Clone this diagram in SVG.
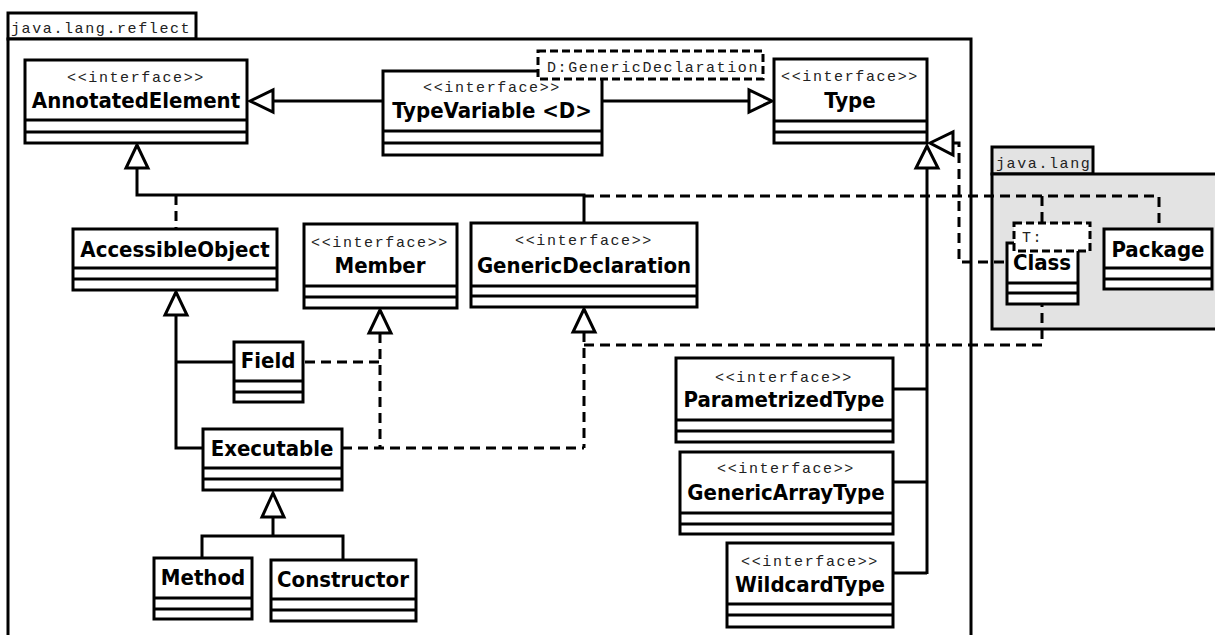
<svg xmlns="http://www.w3.org/2000/svg" width="1215" height="635" viewBox="0 0 1215 635">
  <style>
    .pkg { fill: #ffffff; stroke: #000; stroke-width: 3; }
    .pkg-gray { fill: #e3e3e3; stroke: #000; stroke-width: 3; }
    .box { fill: #ffffff; stroke: #000; stroke-width: 3; }
    .sep { stroke: #000; stroke-width: 3; fill: none; }
    .tmpl { fill: #ffffff; stroke: #000; stroke-width: 3; stroke-dasharray: 8 4; }
    .mono { font-family: "Liberation Mono", "DejaVu Sans Mono", monospace; font-size: 15px; letter-spacing: 1.6px; fill: #222; }
    .name { font-family: "DejaVu Sans Condensed", "DejaVu Sans", sans-serif; font-stretch: condensed; font-weight: bold; font-size: 22px; fill: #000; text-anchor: middle; }
    .st { text-anchor: middle; }
    .solid { fill: none; stroke: #000; stroke-width: 3; }
    .dash { fill: none; stroke: #000; stroke-width: 3; stroke-dasharray: 10 6; }
    .tri { fill: #ffffff; stroke: #000; stroke-width: 3; stroke-linejoin: miter; }
  </style>

  <!-- package java.lang.reflect -->
  <g id="pkg-reflect">
    <rect class="pkg" x="8" y="13" width="188" height="26"/>
    <rect class="pkg" x="8" y="39" width="963" height="610"/>
    <text class="mono" x="11" y="33">java.lang.reflect</text>
  </g>

  <!-- package java.lang -->
  <g id="pkg-lang">
    <rect class="pkg-gray" x="992" y="147" width="101" height="27"/>
    <rect class="pkg-gray" x="992" y="174" width="240" height="155"/>
    <text class="mono" x="996" y="168">java.lang</text>
  </g>

  <!-- connectors -->
  <g id="connectors">
    <!-- TypeVariable extends AnnotatedElement -->
    <line class="solid" x1="273" y1="101" x2="383" y2="101"/>
    <polygon class="tri" points="250,101 273,90 273,112"/>
    <!-- TypeVariable extends Type -->
    <line class="solid" x1="602" y1="101" x2="749" y2="101"/>
    <polygon class="tri" points="772,101 749,90 749,112"/>
    <!-- AnnotatedElement hierarchy -->
    <polyline class="solid" points="137,168 137,195 584,195 584,223"/>
    <polygon class="tri" points="137,145 126,168 148,168"/>
    <line class="dash" x1="176" y1="195" x2="176" y2="229"/>
    <polyline class="dash" points="584,196 1159,196 1159,229"/>
    <line class="dash" x1="1042" y1="196" x2="1042" y2="243"/>
    <!-- AccessibleObject hierarchy -->
    <polyline class="solid" points="176,315 176,448 203,448"/>
    <line class="solid" x1="176" y1="362" x2="234" y2="362"/>
    <polygon class="tri" points="176,292 165,315 187,315"/>
    <!-- Member realizations -->
    <line class="dash" x1="305" y1="362" x2="380" y2="362"/>
    <line class="dash" x1="380" y1="333" x2="380" y2="448"/>
    <line class="dash" x1="342" y1="448" x2="584" y2="448"/>
    <polygon class="tri" points="380,310 369,333 391,333"/>
    <!-- GenericDeclaration realizations -->
    <line class="dash" x1="584" y1="332" x2="584" y2="448"/>
    <polyline class="dash" points="584,345 1042,345 1042,304"/>
    <polygon class="tri" points="584,309 573,332 595,332"/>
    <!-- Type hierarchy -->
    <line class="solid" x1="927" y1="168" x2="927" y2="574"/>
    <line class="solid" x1="893" y1="389" x2="927" y2="389"/>
    <line class="solid" x1="893" y1="482" x2="927" y2="482"/>
    <line class="solid" x1="893" y1="573" x2="927" y2="573"/>
    <polygon class="tri" points="927,146 916,168 938,168"/>
    <!-- Class implements Type -->
    <polyline class="dash" points="953,143 959,143 959,262 1007,262"/>
    <polygon class="tri" points="930,143 953,132 953,155"/>
    <!-- Executable hierarchy -->
    <polyline class="solid" points="273,517 273,536"/>
    <polyline class="solid" points="202,558 202,536 343,536 343,560"/>
    <polygon class="tri" points="273,493 262,517 284,517"/>
  </g>

  <!-- classes -->
  <g id="AnnotatedElement">
    <rect class="box" x="25" y="60" width="222" height="83"/>
    <line class="sep" x1="25" y1="120" x2="247" y2="120"/>
    <line class="sep" x1="25" y1="132" x2="247" y2="132"/>
    <text class="mono st" x="136" y="82">&lt;&lt;interface&gt;&gt;</text>
    <text class="name" x="136" y="108">AnnotatedElement</text>
  </g>

  <g id="TypeVariable">
    <rect class="box" x="383" y="71" width="219" height="84"/>
    <line class="sep" x1="383" y1="131" x2="602" y2="131"/>
    <line class="sep" x1="383" y1="143" x2="602" y2="143"/>
    <text class="mono st" x="492" y="92">&lt;&lt;interface&gt;&gt;</text>
    <text class="name" x="492" y="118">TypeVariable &lt;D&gt;</text>
    <rect class="tmpl" x="538" y="51" width="225" height="28"/>
    <text class="mono" x="547" y="72">D:GenericDeclaration</text>
  </g>

  <g id="Type">
    <rect class="box" x="774" y="59" width="153" height="84"/>
    <line class="sep" x1="774" y1="121" x2="927" y2="121"/>
    <line class="sep" x1="774" y1="132" x2="927" y2="132"/>
    <text class="mono st" x="850" y="81">&lt;&lt;interface&gt;&gt;</text>
    <text class="name" x="850" y="108">Type</text>
  </g>

  <g id="AccessibleObject">
    <rect class="box" x="73" y="229" width="204" height="61"/>
    <line class="sep" x1="73" y1="268" x2="277" y2="268"/>
    <line class="sep" x1="73" y1="279" x2="277" y2="279"/>
    <text class="name" x="175" y="257">AccessibleObject</text>
  </g>

  <g id="Member">
    <rect class="box" x="304" y="224" width="153" height="84"/>
    <line class="sep" x1="304" y1="286" x2="457" y2="286"/>
    <line class="sep" x1="304" y1="297" x2="457" y2="297"/>
    <text class="mono st" x="380" y="247">&lt;&lt;interface&gt;&gt;</text>
    <text class="name" x="380" y="273">Member</text>
  </g>

  <g id="GenericDeclaration">
    <rect class="box" x="471" y="223" width="226" height="84"/>
    <line class="sep" x1="471" y1="286" x2="697" y2="286"/>
    <line class="sep" x1="471" y1="296" x2="697" y2="296"/>
    <text class="mono st" x="584" y="245">&lt;&lt;interface&gt;&gt;</text>
    <text class="name" x="584" y="273">GenericDeclaration</text>
  </g>

  <g id="Field">
    <rect class="box" x="234" y="342" width="69" height="60"/>
    <line class="sep" x1="234" y1="381" x2="303" y2="381"/>
    <line class="sep" x1="234" y1="392" x2="303" y2="392"/>
    <text class="name" x="268" y="368">Field</text>
  </g>

  <g id="Executable">
    <rect class="box" x="203" y="429" width="139" height="61"/>
    <line class="sep" x1="203" y1="468" x2="342" y2="468"/>
    <line class="sep" x1="203" y1="479" x2="342" y2="479"/>
    <text class="name" x="272" y="456">Executable</text>
  </g>

  <g id="Method">
    <rect class="box" x="154" y="558" width="98" height="61"/>
    <line class="sep" x1="154" y1="598" x2="252" y2="598"/>
    <line class="sep" x1="154" y1="609" x2="252" y2="609"/>
    <text class="name" x="203" y="585">Method</text>
  </g>

  <g id="Constructor">
    <rect class="box" x="271" y="560" width="145" height="61"/>
    <line class="sep" x1="271" y1="599" x2="416" y2="599"/>
    <line class="sep" x1="271" y1="610" x2="416" y2="610"/>
    <text class="name" x="343" y="587">Constructor</text>
  </g>

  <g id="ParametrizedType">
    <rect class="box" x="676" y="358" width="217" height="84"/>
    <line class="sep" x1="676" y1="420" x2="893" y2="420"/>
    <line class="sep" x1="676" y1="431" x2="893" y2="431"/>
    <text class="mono st" x="784" y="382">&lt;&lt;interface&gt;&gt;</text>
    <text class="name" x="784" y="407">ParametrizedType</text>
  </g>

  <g id="GenericArrayType">
    <rect class="box" x="680" y="452" width="213" height="82"/>
    <line class="sep" x1="680" y1="513" x2="893" y2="513"/>
    <line class="sep" x1="680" y1="524" x2="893" y2="524"/>
    <text class="mono st" x="786" y="473">&lt;&lt;interface&gt;&gt;</text>
    <text class="name" x="786" y="500">GenericArrayType</text>
  </g>

  <g id="WildcardType">
    <rect class="box" x="727" y="543" width="166" height="84"/>
    <line class="sep" x1="727" y1="604" x2="893" y2="604"/>
    <line class="sep" x1="727" y1="615" x2="893" y2="615"/>
    <text class="mono st" x="810" y="566">&lt;&lt;interface&gt;&gt;</text>
    <text class="name" x="810" y="592">WildcardType</text>
  </g>

  <g id="Class">
    <rect class="box" x="1007" y="243" width="71" height="61"/>
    <line class="sep" x1="1007" y1="283" x2="1078" y2="283"/>
    <line class="sep" x1="1007" y1="293" x2="1078" y2="293"/>
    <rect class="tmpl" x="1014" y="223" width="76" height="28"/>
    <text class="mono" x="1022" y="242">T:</text>
    <text class="name" x="1042" y="270">Class</text>
  </g>

  <g id="Package">
    <rect class="box" x="1104" y="229" width="108" height="60"/>
    <line class="sep" x1="1104" y1="268" x2="1212" y2="268"/>
    <line class="sep" x1="1104" y1="279" x2="1212" y2="279"/>
    <text class="name" x="1158" y="257">Package</text>
  </g>
</svg>
